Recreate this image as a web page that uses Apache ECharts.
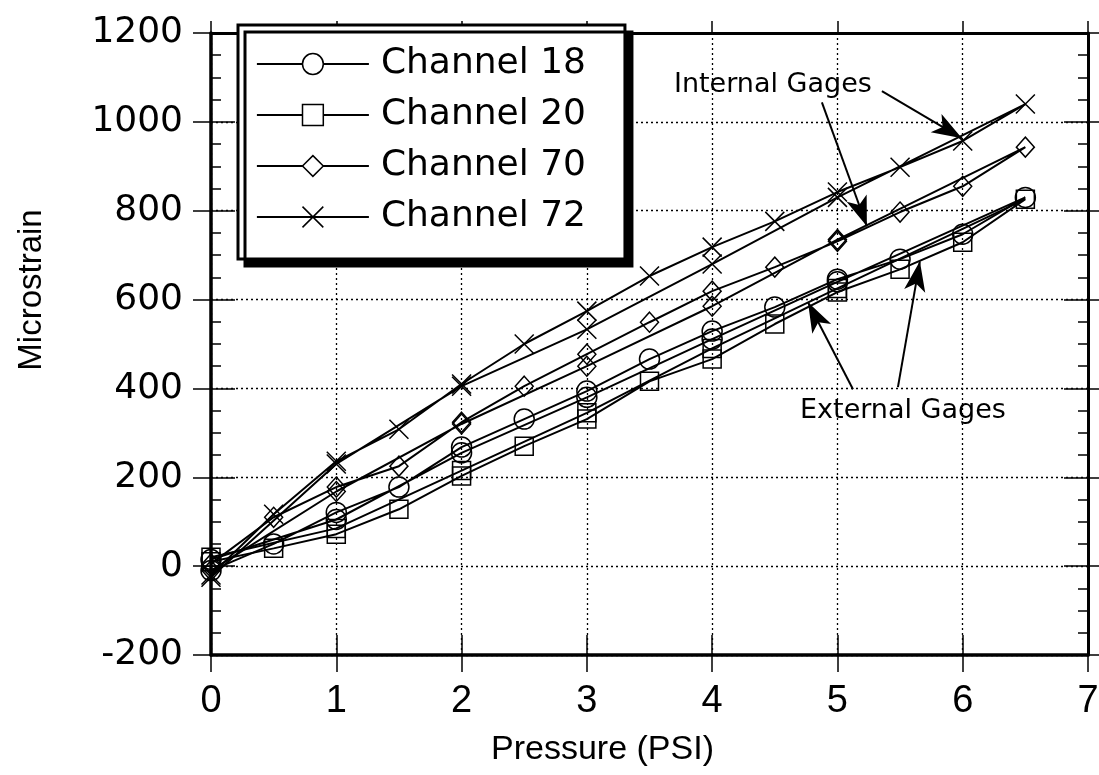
<!DOCTYPE html>
<html><head><meta charset="utf-8">
<script src="https://cdn.jsdelivr.net/npm/echarts@6/dist/echarts.min.js"></script>
<style>html,body{margin:0;padding:0;background:#fff}#c{width:1099px;height:775px}</style>
</head><body><div id="c"></div>
<script>
// Pressure path: loading 0 -> 6.5 then unloading back to 0
const pressure = [0, 0.5, 1, 1.5, 2, 2.5, 3, 3.5, 4, 4.5, 5, 5.5, 6, 6.5, 5, 4, 3, 2, 1, 0];
const ch18 = [-10, 50, 121, 178, 268, 331, 394, 466, 529, 583, 646, 691, 747, 830, 640, 511, 380, 255, 105, 15];
const ch20 = [10, 40, 72, 128, 203, 270, 331, 416, 466, 545, 617, 668, 729, 826, 625, 490, 345, 215, 85, 20];
const ch70 = [5, 110, 178, 225, 324, 405, 477, 549, 619, 673, 731, 797, 855, 943, 735, 585, 450, 320, 168, -10];
const ch72 = [-20, 117, 236, 308, 410, 500, 574, 653, 718, 776, 842, 898, 957, 1040, 830, 680, 533, 405, 230, -25];
const seriesNames = ['Channel 18', 'Channel 20', 'Channel 70', 'Channel 72'];
const xTickLabels = ['0', '1', '2', '3', '4', '5', '6', '7'];
const yTickLabels = ['-200', '0', '200', '400', '600', '800', '1000', '1200'];
const annotationTexts = ['Internal Gages', 'External Gages'];
const annotationX = [4.485, 5.523];
const annotationY = [1082, 350];
// arrows: [startX, startY, endX, endY] in data units
const arrowStartX = [5.355, 4.876, 5.124, 5.483];
const arrowStartY = [1069, 1044, 398, 403];
const arrowEndX = [5.994, 5.235, 4.765, 5.658];
const arrowEndY = [963, 765, 594, 686];

const symbols = ['circle', 'rect', 'diamond', 'path://M0,0L20,20M20,0L0,20'];
const symbolSizes = [20, 18, [18, 20], 19];
const allData = [ch18, ch20, ch70, ch72];

const black = '#000';
const series = allData.map((vals, i) => ({
  name: seriesNames[i],
  type: 'line',
  xAxisIndex: 0, yAxisIndex: 0,
  data: vals.map((v, k) => [pressure[k], v]),
  symbol: symbols[i],
  symbolSize: symbolSizes[i],
  showAllSymbol: true,
  clip: false,
  lineStyle: { color: black, width: 2 },
  itemStyle: { color: 'rgba(255,255,255,0)', borderColor: black, borderWidth: 1.5 },
  emphasis: { disabled: true },
  z: 3
}));

series.push({
  name: 'annotations',
  type: 'scatter',
  xAxisIndex: 0, yAxisIndex: 0,
  data: annotationTexts.map((t, i) => [annotationX[i], annotationY[i], t]),
  symbolSize: 1,
  itemStyle: { color: 'rgba(0,0,0,0)', opacity: 1 },
  label: {
    show: true, position: 'inside',
    formatter: p => p.value[2],
    fontFamily: 'DejaVu Sans', fontSize: 27, color: black, opacity: 1, textBorderWidth: 0
  },
  silent: true,
  z: 5,
  markLine: {
    silent: true,
    symbol: ['none', 'arrow'],
    symbolSize: [16, 30],
    label: { show: false },
    lineStyle: { color: black, width: 2, type: 'solid', opacity: 1 },
    itemStyle: { color: black },
    data: arrowStartX.map((sx, i) => [
      { coord: [sx, arrowStartY[i]] },
      { coord: [arrowEndX[i], arrowEndY[i]] }
    ])
  }
});

const gridLine = { show: true, lineStyle: { color: black, width: 1.3, type: [2, 3] } };
const frame = w => ({ show: true, onZero: false, lineStyle: { color: black, width: w } });
const tickStyle = { color: black, width: 1.5 };

const option = {
  animation: false,
  backgroundColor: '#fff',
  grid: { left: 211, right: 11, top: 33, bottom: 120, containLabel: false, outerBoundsMode: 'none' },
  legend: {
    orient: 'vertical', left: 238, top: 25,
    data: seriesNames.map(n => ({ name: n, itemStyle: { color: '#fff' } })),
    itemWidth: 112, itemHeight: 26, itemGap: 15,
    padding: [21, 39, 24, 18],
    backgroundColor: '#fff', borderColor: black, borderWidth: 3,
    shadowColor: black, shadowOffsetX: 7, shadowOffsetY: 7, shadowBlur: 0,
    itemStyle: { borderColor: black, borderWidth: 1.5 },
    lineStyle: { color: black, width: 1.8 },
    textStyle: { fontFamily: 'DejaVu Sans', fontSize: 36, color: black, padding: [0, 0, 0, 7] },
    selectedMode: false
  },
  xAxis: [
    {
      type: 'value', min: 0, max: 7, interval: 1, position: 'bottom',
      axisLine: frame(3.5),
      axisTick: { show: true, length: 17, lineStyle: tickStyle },
      axisLabel: { margin: 28, fontFamily: 'Liberation Sans', fontSize: 38, color: black,
        formatter: v => xTickLabels[Math.round(v)] },
      splitLine: gridLine,
      name: 'Pressure (PSI)', nameLocation: 'middle', nameGap: 78, nameMoveOverlap: false,
      nameTextStyle: { fontFamily: 'Liberation Sans', fontSize: 34, color: black, padding: [0, 94, 0, 0] }
    },
    {
      type: 'value', min: 0, max: 7, interval: 1, position: 'bottom',
      axisLine: { show: false, onZero: false },
      axisTick: { show: true, inside: true, length: 20, lineStyle: tickStyle },
      axisLabel: { show: false }, splitLine: { show: false }
    },
    {
      type: 'value', min: 0, max: 7, interval: 1, position: 'top',
      axisLine: frame(3),
      axisTick: { show: true, length: 12, lineStyle: tickStyle },
      axisLabel: { show: false }, splitLine: { show: false }
    }
  ],
  yAxis: [
    {
      type: 'value', min: -200, max: 1200, interval: 200, position: 'left',
      axisLine: frame(3.5),
      axisTick: { show: true, length: 18, lineStyle: tickStyle },
      axisLabel: { margin: 28, fontFamily: 'DejaVu Sans', fontSize: 36, color: black,
        formatter: v => yTickLabels[Math.round((v + 200) / 200)] },
      splitLine: gridLine,
      name: 'Microstrain', nameLocation: 'middle', nameGap: 163, nameMoveOverlap: false,
      nameTextStyle: { fontFamily: 'Liberation Sans', fontSize: 33, color: black, padding: [0, 0, 0, 108] }
    },
    {
      type: 'value', min: -200, max: 1200, interval: 200, position: 'left',
      axisLine: { show: false, onZero: false },
      axisTick: { show: true, inside: true, length: 24, lineStyle: tickStyle },
      minorTick: { show: true, splitNumber: 4, length: 10, lineStyle: tickStyle },
      axisLabel: { show: false }, splitLine: { show: false }
    },
    {
      type: 'value', min: -200, max: 1200, interval: 200, position: 'right',
      axisLine: frame(3),
      axisTick: { show: true, inside: true, length: 24, lineStyle: tickStyle },
      minorTick: { show: true, splitNumber: 4, length: 10, lineStyle: tickStyle },
      axisLabel: { show: false }, splitLine: { show: false }
    },
    {
      type: 'value', min: -200, max: 1200, interval: 200, position: 'right',
      axisLine: { show: false, onZero: false },
      axisTick: { show: true, length: 11, lineStyle: tickStyle },
      axisLabel: { show: false }, splitLine: { show: false }
    }
  ],
  series: series
};

const chart = echarts.init(document.getElementById('c'), null, { renderer: 'canvas' });
chart.setOption(option);
</script>
</body></html>
